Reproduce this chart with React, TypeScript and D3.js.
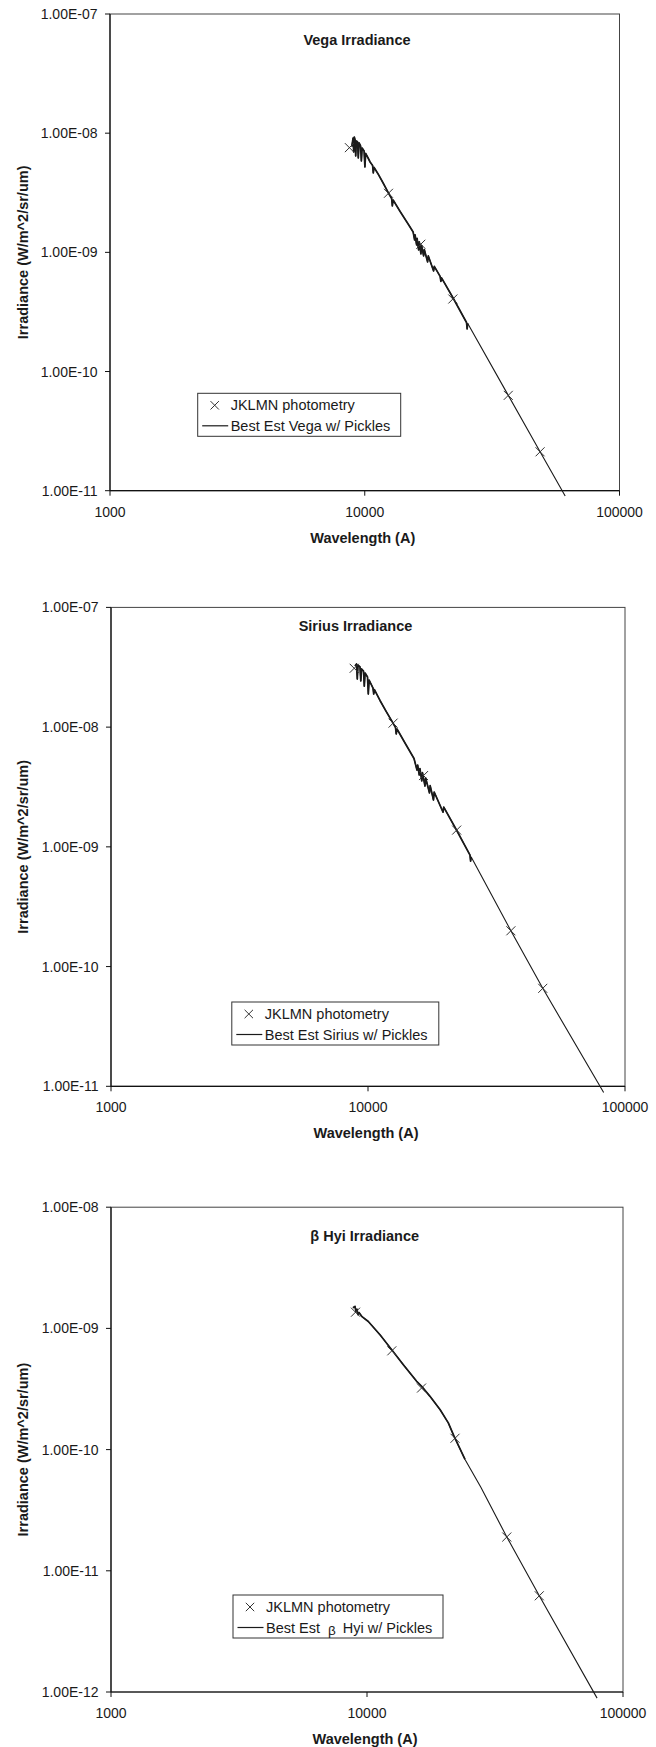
import React from 'react';
import * as d3 from 'd3';

const FONT = '"Liberation Sans", Arial, Helvetica, sans-serif';
const INK = '#1a1a1a';

// ---------- shared axis values ----------
const X_TICKS = [1000, 10000, 100000];
const X_TICK_LABELS = ['1000', '10000', '100000'];
const Y_TICKS_A = [1e-7, 1e-8, 1e-9, 1e-10, 1e-11];
const Y_TICK_LABELS_A = ['1.00E-07', '1.00E-08', '1.00E-09', '1.00E-10', '1.00E-11'];
const Y_TICKS_B = [1e-8, 1e-9, 1e-10, 1e-11, 1e-12];
const Y_TICK_LABELS_B = ['1.00E-08', '1.00E-09', '1.00E-10', '1.00E-11', '1.00E-12'];

// ---------- Vega ----------
const VEGA_PHOT_WL = [8705, 12390, 16600, 22170, 36590, 48780];
const VEGA_PHOT_IRR = [7.56e-9, 3.13e-9, 1.17e-9, 4.06e-10, 6.31e-11, 2.12e-11];
const VEGA_SPEC_WL = [
  8894, 9000, 9048, 9098, 9163, 9214, 9272, 9372, 9433, 9502, 9631, 9700, 9763, 9941,
  10014, 10085, 10306, 10495, 10735, 10804, 10881, 11282, 11807, 12354, 12751, 12833,
  12925, 13767, 14800, 15488, 15693, 15762, 15977, 16050, 16270, 16372, 16612, 16716,
  17022, 17129, 17650, 17763, 18634, 18751, 19770, 19895, 20022, 22170, 25090, 25230,
  25370, 36590, 48780, 61200,
];
const VEGA_SPEC_IRR = [
  7.73e-9, 9.11e-9, 6.96e-9, 9.29e-9, 8.77e-9, 6.44e-9, 8.6e-9, 8.44e-9, 6.19e-9, 8.28e-9,
  7.81e-9, 5.84e-9, 7.51e-9, 7.09e-9, 5.21e-9, 6.76e-9, 6.19e-9, 5.73e-9, 5.36e-9, 4.64e-9,
  5.16e-9, 4.55e-9, 3.82e-9, 3.18e-9, 2.83e-9, 2.45e-9, 2.75e-9, 2.2e-9, 1.73e-9, 1.48e-9,
  1.27e-9, 1.4e-9, 1.153e-9, 1.308e-9, 1.047e-9, 1.223e-9, 9.69e-10, 1.142e-9, 9.33e-10,
  1.057e-9, 8.31e-10, 9.33e-10, 6.98e-10, 7.62e-10, 6.28e-10, 5.7e-10, 6.1e-10, 4.18e-10,
  2.58e-10, 2.28e-10, 2.53e-10, 6.31e-11, 2.12e-11, 9.04e-12,
];

// ---------- Sirius ----------
const SIRIUS_PHOT_WL = [8835, 12520, 16450, 22130, 35970, 47860];
const SIRIUS_PHOT_IRR = [3.1e-8, 1.08e-8, 3.94e-9, 1.38e-9, 1.99e-10, 6.58e-11];
const SIRIUS_SPEC_WL = [
  8900, 9021, 9086, 9143, 9308, 9375, 9442, 9605, 9674, 9743, 9956, 10027, 10099, 10459,
  10525, 10591, 11135, 11749, 12514, 12797, 12877, 12969, 13932, 15101, 15508, 15605,
  15829, 15928, 16187, 16291, 16661, 16765, 17346, 17455, 17980, 18092, 19586, 19712,
  22120, 24940, 25070, 25210, 35970, 47860, 82600,
];
const SIRIUS_SPEC_IRR = [
  3.24e-8, 3.37e-8, 2.52e-8, 3.3e-8, 3.18e-8, 2.43e-8, 3.06e-8, 2.94e-8, 2.2e-8, 2.83e-8,
  2.62e-8, 1.89e-8, 2.47e-8, 2.12e-8, 1.89e-8, 2.06e-8, 1.67e-8, 1.36e-8, 1.08e-8, 9.92e-9,
  8.76e-9, 9.64e-9, 7.37e-9, 5.47e-9, 4.38e-9, 4.82e-9, 3.98e-9, 4.51e-9, 3.55e-9, 4.17e-9,
  3.22e-9, 3.76e-9, 2.82e-9, 3.25e-9, 2.46e-9, 2.87e-9, 1.95e-9, 2.15e-9, 1.376e-9,
  8.54e-10, 7.61e-10, 8.22e-10, 1.99e-10, 6.58e-11, 8.87e-12,
];

// ---------- beta Hyi ----------
const BHYI_PHOT_WL = [9017, 12500, 16330, 22070, 35160, 47100];
const BHYI_PHOT_IRR = [1.36e-9, 6.53e-10, 3.22e-10, 1.24e-10, 1.9e-11, 6.22e-12];
const BHYI_SPEC_WL = [
  8816, 8976, 9057, 9139, 9221, 9307, 9561, 10118, 11240, 12490, 13863, 15631, 16351,
  17622, 19282, 20780, 21870, 24150, 27880, 35160, 47100, 79200,
];
const BHYI_SPEC_IRR = [
  1.48e-9, 1.52e-9, 1.37e-9, 1.44e-9, 1.3e-9, 1.35e-9, 1.25e-9, 1.14e-9, 8.86e-10, 6.67e-10,
  5.02e-10, 3.66e-10, 3.33e-10, 2.75e-10, 2.14e-10, 1.66e-10, 1.29e-10, 8.29e-11, 4.87e-11,
  1.9e-11, 6.22e-12, 8.9e-13,
];

type Panel = {
  title: string;
  legendName: React.ReactNode;
  left: number; right: number; top: number; bottom: number;
  yTicks: number[]; yLabels: string[];
  photWl: number[]; photIrr: number[];
  specWl: number[]; specIrr: number[];
  titleX: number; titleDy: number;
  legend: { x: number; y: number; w: number };
};

const PANELS: Panel[] = [
  {
    title: 'Vega Irradiance',
    legendName: 'Best Est Vega w/ Pickles',
    left: 110, right: 619.5, top: 14, bottom: 490.7,
    yTicks: Y_TICKS_A, yLabels: Y_TICK_LABELS_A,
    photWl: VEGA_PHOT_WL, photIrr: VEGA_PHOT_IRR,
    specWl: VEGA_SPEC_WL, specIrr: VEGA_SPEC_IRR,
    titleX: 357, titleDy: 31,
    legend: { x: 197.7, y: 393.3, w: 203 },
  },
  {
    title: 'Sirius Irradiance',
    legendName: 'Best Est Sirius w/ Pickles',
    left: 111, right: 625, top: 607.4, bottom: 1086.3,
    yTicks: Y_TICKS_A, yLabels: Y_TICK_LABELS_A,
    photWl: SIRIUS_PHOT_WL, photIrr: SIRIUS_PHOT_IRR,
    specWl: SIRIUS_SPEC_WL, specIrr: SIRIUS_SPEC_IRR,
    titleX: 355.5, titleDy: 23.5,
    legend: { x: 231.8, y: 1002, w: 207 },
  },
  {
    title: 'β Hyi Irradiance',
    legendName: (
      <>
        <tspan>Best Est</tspan>
        <tspan dx={8} dy={2.5} fontSize={13.5}>β</tspan>
        <tspan dx={7} dy={-2.5}>Hyi w/ Pickles</tspan>
      </>
    ),
    left: 111, right: 623, top: 1207.2, bottom: 1692,
    yTicks: Y_TICKS_B, yLabels: Y_TICK_LABELS_B,
    photWl: BHYI_PHOT_WL, photIrr: BHYI_PHOT_IRR,
    specWl: BHYI_SPEC_WL, specIrr: BHYI_SPEC_IRR,
    titleX: 364.7, titleDy: 34,
    legend: { x: 233, y: 1595, w: 210 },
  },
];

function Cross({ cx, cy, r = 4.5 }: { cx: number; cy: number; r?: number }) {
  return (
    <path
      d={`M${cx - r},${cy - r}L${cx + r},${cy + r}M${cx - r},${cy + r}L${cx + r},${cy - r}`}
      stroke="#333"
      strokeWidth={1}
      fill="none"
    />
  );
}

function Chart({ p }: { p: Panel }) {
  const yDomain: [number, number] = [p.yTicks[p.yTicks.length - 1], p.yTicks[0]];
  const x = d3.scaleLog().domain([1000, 100000]).range([p.left, p.right]);
  const y = d3.scaleLog().domain(yDomain).range([p.bottom, p.top]);
  const idx = d3.range(p.specWl.length);
  const line = d3
    .line<number>()
    .x((i) => x(p.specWl[i]))
    .y((i) => y(p.specIrr[i]));
  const denseIdx = idx.filter((i) => p.specWl[i] <= 26000);
  const L = p.legend;

  return (
    <g fontFamily={FONT} fill={INK}>
      {/* plot frame */}
      <rect x={p.left} y={p.top} width={p.right - p.left} height={p.bottom - p.top} fill="none" stroke="#444" strokeWidth={1} />
      {/* axes */}
      <line x1={p.left} x2={p.left} y1={p.top} y2={p.bottom} stroke="#111" strokeWidth={1.2} />
      <line x1={p.left} x2={p.right} y1={p.bottom} y2={p.bottom} stroke="#111" strokeWidth={1.2} />
      {p.yTicks.map((t, i) => (
        <g key={'y' + i}>
          <line x1={p.left - 5} x2={p.left} y1={y(t)} y2={y(t)} stroke="#111" strokeWidth={1} />
          <text x={p.left - 12.5} y={y(t) + 5} textAnchor="end" fontSize={14}>
            {p.yLabels[i]}
          </text>
        </g>
      ))}
      {X_TICKS.map((t, i) => (
        <g key={'x' + i}>
          <line x1={x(t)} x2={x(t)} y1={p.bottom} y2={p.bottom + 5} stroke="#111" strokeWidth={1} />
          <text x={x(t)} y={p.bottom + 26} textAnchor="middle" fontSize={14}>
            {X_TICK_LABELS[i]}
          </text>
        </g>
      ))}
      {/* axis titles */}
      <text x={(p.left + p.right) / 2 - 2} y={p.bottom + 52} textAnchor="middle" fontSize={14.5} fontWeight="bold">
        Wavelength (A)
      </text>
      <text
        transform={`translate(28,${(p.top + p.bottom) / 2}) rotate(-90)`}
        textAnchor="middle"
        fontSize={14.5}
        fontWeight="bold"
      >
        Irradiance (W/m^2/sr/um)
      </text>
      {/* chart title */}
      <text x={p.titleX} y={p.top + p.titleDy} textAnchor="middle" fontSize={14.5} fontWeight="bold">
        {p.title}
      </text>
      {/* spectrum */}
      <path d={line(idx) || ''} fill="none" stroke={INK} strokeWidth={1.1} strokeLinejoin="round" />
      <path d={line(denseIdx) || ''} fill="none" stroke={INK} strokeWidth={1.7} strokeLinejoin="round" />
      {/* photometry */}
      {p.photWl.map((w, i) => (
        <Cross key={'p' + i} cx={x(w)} cy={y(p.photIrr[i])} />
      ))}
      {/* legend */}
      <rect x={L.x} y={L.y} width={L.w} height={43} fill="#fff" stroke="#333" strokeWidth={1} />
      <Cross cx={L.x + 17} cy={L.y + 12} r={4.2} />
      <text x={L.x + 33} y={L.y + 17} fontSize={14.5}>JKLMN photometry</text>
      <line x1={L.x + 4.5} x2={L.x + 30.5} y1={L.y + 32.5} y2={L.y + 32.5} stroke={INK} strokeWidth={1.2} />
      <text x={L.x + 33} y={L.y + 37.5} fontSize={14.5}>{p.legendName}</text>
    </g>
  );
}

export default function App() {
  return (
    <>
      <style>{'body{margin:0;background:#fff}'}</style>
      <svg width={656} height={1747} viewBox="0 0 656 1747" style={{ display: 'block', background: '#fff' }}>
        {PANELS.map((p, i) => (
          <Chart key={i} p={p} />
        ))}
      </svg>
    </>
  );
}
